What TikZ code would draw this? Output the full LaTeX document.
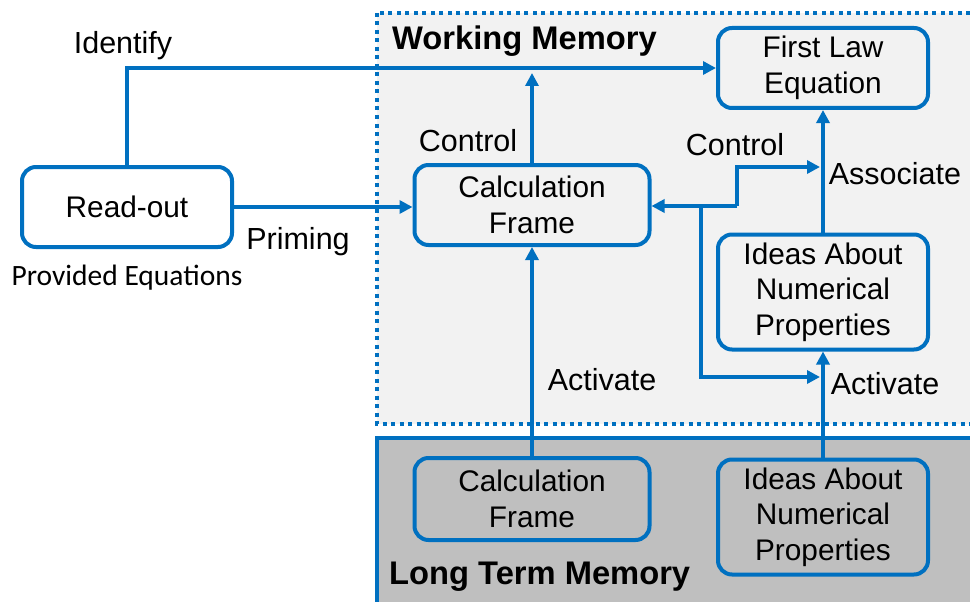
\documentclass[tikz,border=0pt]{standalone}
\usepackage{fontspec}
\setmainfont{Liberation Sans}
\newfontfamily\calfont{Carlito}
\usetikzlibrary{arrows.meta}
\definecolor{myblue}{HTML}{0070C0}
\definecolor{wmgray}{HTML}{F2F2F2}
\definecolor{ltmgray}{HTML}{BFBFBF}
\begin{document}
\begin{tikzpicture}[x=1pt,y=-1pt,
  box/.style={draw=myblue, line width=4pt, rounded corners=14pt, align=center,
    font=\fontsize{29.8}{35.5}\selectfont, inner sep=0pt},
  arr/.style={draw=myblue, line width=4pt, -{Triangle[length=13pt,width=13pt]}},
  lbl/.style={font=\fontsize{30.5}{36}\selectfont, inner sep=0pt},
  ttl/.style={font=\fontsize{32.7}{38}\selectfont\bfseries, inner sep=0pt}]
\useasboundingbox (0,0) rectangle (970,602);
\clip (0,0) rectangle (970,602);
% regions
\fill[white] (0,0) rectangle (970,602);
\draw[myblue, line width=4pt, fill=wmgray, dash pattern=on 4pt off 4.5pt] (377,13) rectangle (985,424);
\draw[myblue, line width=4pt, fill=ltmgray] (377,438) rectangle (985,615);
\node[ttl, anchor=west] (wmt) at (392,41) {Working Memory};
\node[ttl, anchor=west] (ltmt) at (389,577) {Long Term Memory};
% nodes
\node[box, fill=white, minimum width=210pt, minimum height=80pt] (ro) at (127,207) {Read-out};
\node[box, fill=wmgray, minimum width=235pt, minimum height=80pt] (cfw) at (532,205) {Calculation\\Frame};
\node[box, fill=wmgray, minimum width=210pt, minimum height=80pt] (fle) at (823,68) {First Law\\Equation};
\node[box, fill=wmgray, minimum width=210pt, minimum height=115pt] (iw) at (823,292) {Ideas About\\Numerical\\Properties};
\node[box, fill=ltmgray, minimum width=235pt, minimum height=82pt] (cfl) at (532,499) {Calculation\\Frame};
\node[box, fill=ltmgray, minimum width=210pt, minimum height=115pt] (il) at (823,517) {Ideas About\\Numerical\\Properties};
% coordinates
\coordinate (ctop) at (532,73);
\coordinate (ja) at (701,206);
\coordinate (jb) at (737,206);
\coordinate (associn) at (820,167);
\coordinate (actin) at (820,377);
% connectors
\draw[arr] (ro.north) |- (fle.west);
\draw[arr] (cfw.north) -- (ctop);
\draw[arr] (ro.east) -- (ro.east -| cfw.west);
\draw[arr] (iw.north) -- (fle.south);
\draw[arr] (il.north) -- (iw.south);
\draw[arr] (cfl.north) -- (cfw.south);
\draw[arr] (jb) -- (jb -| cfw.east);
\draw[arr] (jb) |- (associn);
\draw[arr] (ja) |- (actin);
% labels
\node[lbl] (l1) at (123,46) {Identify};
\node[lbl] (l2) at (298,242) {Priming};
\node[font=\calfont\fontsize{29.5}{35}\selectfont, inner sep=0pt] (l3) at (127,278) {Provided Equations};
\node[lbl] (l4) at (468,141) {Control};
\node[lbl] (l5) at (735,145) {Control};
\node[lbl] (l6) at (895,174) {Associate};
\node[lbl] (l7) at (602,380) {Activate};
\node[lbl] (l8) at (885,384) {Activate};
\end{tikzpicture}
\end{document}
